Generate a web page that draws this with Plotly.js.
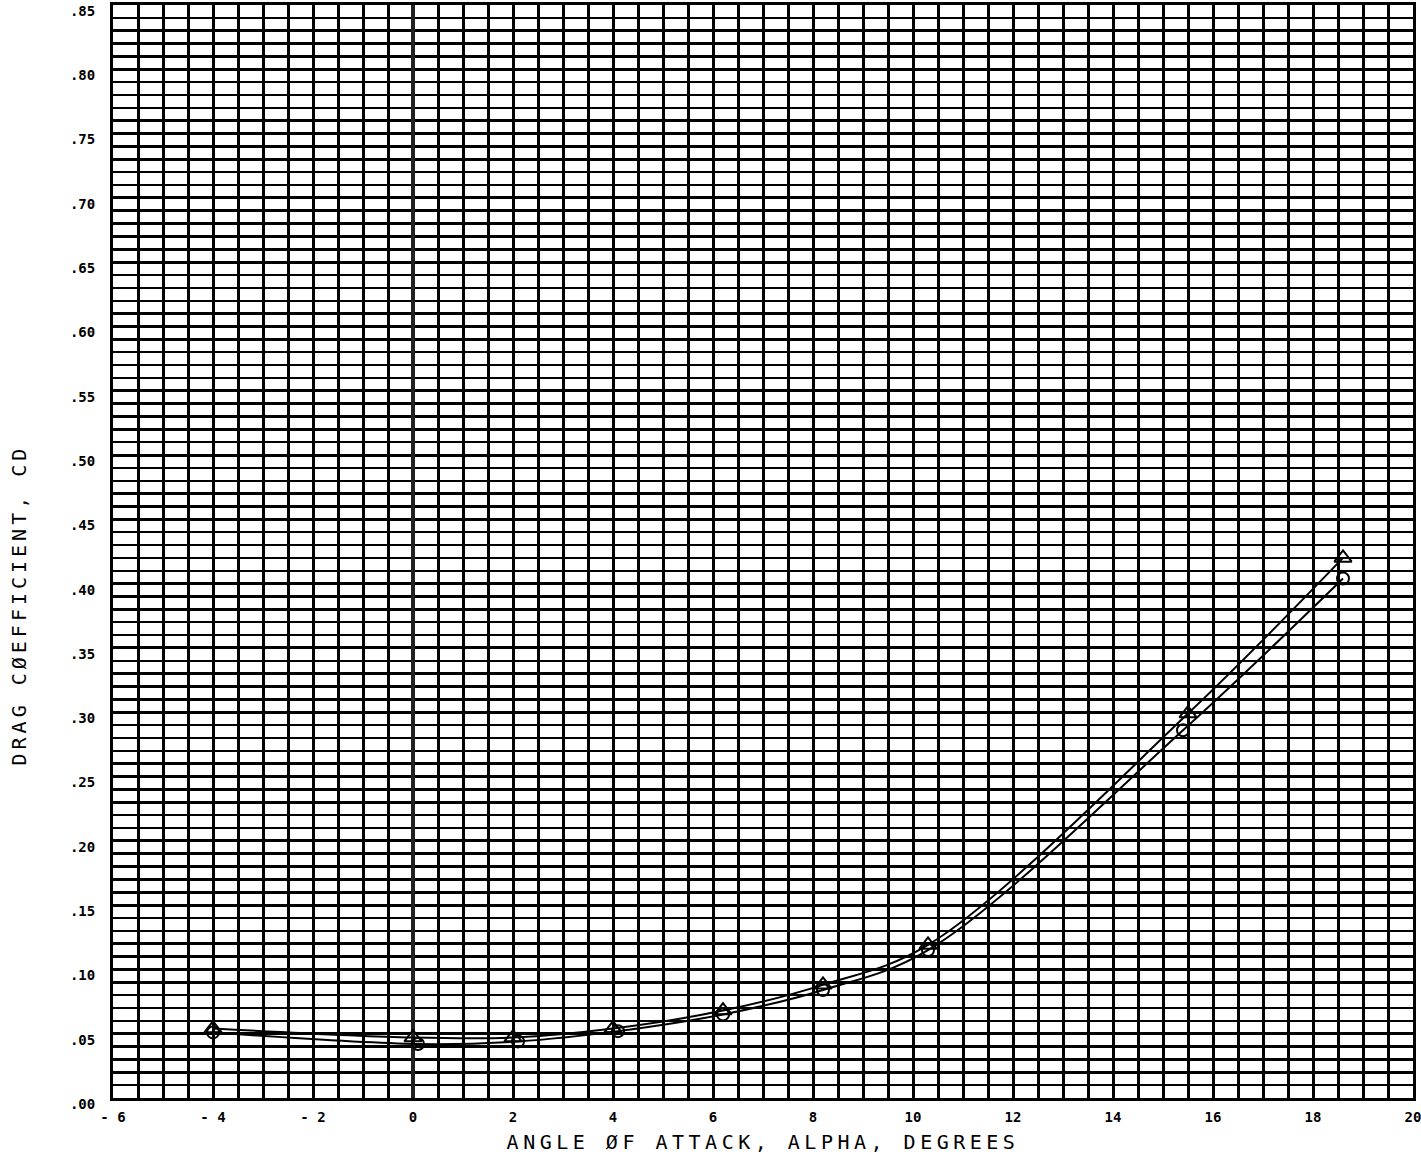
<!DOCTYPE html>
<html>
<head>
<meta charset="utf-8">
<script src="https://cdn.plot.ly/plotly-3.0.1.min.js"></script>
<style>
html,body{margin:0;padding:0;background:#fff;}
#chart{width:1421px;height:1160px;}
.xtitle{letter-spacing:4.5px;}
.annotation-text{letter-spacing:4px;}
</style>
</head>
<body>
<div id="chart"></div>
<script>
// Series 1 (triangle symbols)
const alphaTri = [-4.0, 0.0, 2.0, 4.0, 6.2, 8.2, 10.3, 15.5, 18.6];
const cdTri    = [0.054, 0.047, 0.047, 0.054, 0.068, 0.088, 0.119, 0.299, 0.420];
// Series 2 (circle symbols)
const alphaCir = [-4.0, 0.1, 2.1, 4.1, 6.2, 8.2, 10.3, 15.4, 18.6];
const cdCir    = [0.051, 0.042, 0.044, 0.052, 0.065, 0.084, 0.115, 0.286, 0.404];

// Tick labels
const xTickVals = [-6, -4, -2, 0, 2, 4, 6, 8, 10, 12, 14, 16, 18, 20];
const xTickText = ['- 6', '- 4', '- 2', '0', '2', '4', '6', '8', '10', '12', '14', '16', '18', '20'];
const yTickVals = [0, 0.05, 0.10, 0.15, 0.20, 0.25, 0.30, 0.35, 0.40, 0.45, 0.50, 0.55, 0.60, 0.65, 0.70, 0.75, 0.80, 0.85];
const yTickText = ['.00', '.05', '.10', '.15', '.20', '.25', '.30', '.35', '.40', '.45', '.50', '.55', '.60', '.65', '.70', '.75', '.80', '.85'];

const tickFont = {family: 'DejaVu Sans Mono', size: 14, color: '#000', weight: 'bold'};
const titleFont = {family: 'DejaVu Sans Mono', size: 20, color: '#000'};

const traces = [
  {
    x: alphaTri, y: cdTri, type: 'scatter', mode: 'lines+markers',
    line: {color: '#000', width: 2, shape: 'spline', smoothing: 1},
    marker: {symbol: 'triangle-up-open', size: 15, color: '#000', line: {width: 2, color: '#000'}},
    showlegend: false, hoverinfo: 'skip', cliponaxis: false
  },
  {
    x: alphaCir, y: cdCir, type: 'scatter', mode: 'lines+markers',
    line: {color: '#000', width: 2, shape: 'spline', smoothing: 1},
    marker: {symbol: 'circle-open', size: 12, color: '#000', line: {width: 2, color: '#000'}},
    showlegend: false, hoverinfo: 'skip', cliponaxis: false
  }
];

const layout = {
  width: 1421, height: 1160,
  margin: {l: 113, r: 8, t: 5, b: 62},
  paper_bgcolor: '#fff', plot_bgcolor: '#fff',
  showlegend: false,
  xaxis: {
    range: [-6, 20],
    tickmode: 'array', tickvals: xTickVals, ticktext: xTickText,
    tickfont: tickFont, ticks: '', ticklabelstandoff: 4, ticklabeloverflow: 'allow',
    showgrid: true, gridcolor: '#000', gridwidth: 3,
    minor: {dtick: 0.5, showgrid: true, gridcolor: '#000', gridwidth: 3, ticks: ''},
    zeroline: true, zerolinecolor: '#222', zerolinewidth: 4,
    showline: true, mirror: true, linecolor: '#000', linewidth: 3,
    automargin: false,
    title: {text: 'ANGLE ØF ATTACK, ALPHA, DEGREES', font: titleFont, standoff: 12}
  },
  yaxis: {
    range: [0, 0.85],
    tickmode: 'array', tickvals: yTickVals, ticktext: yTickText,
    tickfont: tickFont, ticks: '', ticklabelstandoff: 12, ticklabeloverflow: 'allow',
    ticklabelshift: 6,
    showgrid: true, gridcolor: '#000', gridwidth: 3,
    minor: {dtick: 0.01, showgrid: true, gridcolor: '#000', gridwidth: 2.5, ticks: ''},
    zeroline: false,
    showline: true, mirror: true, linecolor: '#000', linewidth: 3,
    automargin: false,
    title: {text: ''}
  },
  annotations: [{
    text: 'DRAG CØEFFICIENT, CD', textangle: -90,
    xref: 'paper', yref: 'paper', x: -0.072, y: 0.451,
    xanchor: 'center', yanchor: 'middle', showarrow: false,
    font: titleFont
  }]
};

Plotly.newPlot('chart', traces, layout, {staticPlot: true, displayModeBar: false});
</script>
</body>
</html>
